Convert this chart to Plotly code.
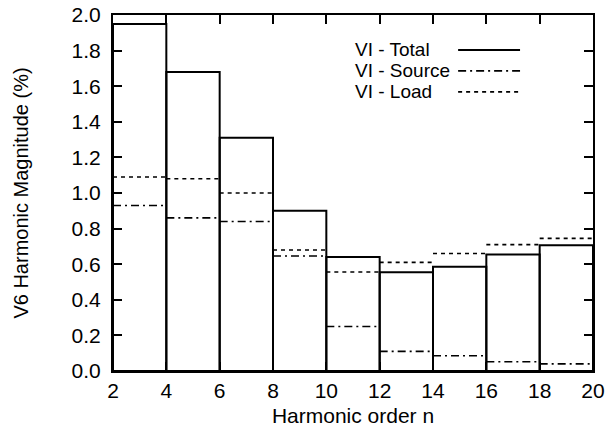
import plotly.graph_objects as go

# Data
bin_edges = [2, 4, 6, 8, 10, 12, 14, 16, 18, 20]
total = [1.95, 1.68, 1.31, 0.90, 0.64, 0.555, 0.586, 0.655, 0.706]
source = [0.93, 0.86, 0.84, 0.646, 0.25, 0.11, 0.086, 0.052, 0.04]
load = [1.09, 1.08, 1.00, 0.68, 0.556, 0.61, 0.66, 0.71, 0.745]
x_ticks = [2, 4, 6, 8, 10, 12, 14, 16, 18, 20]
series_names = ["VI - Total", "VI - Source", "VI - Load"]

centers = [(a + b) / 2 for a, b in zip(bin_edges[:-1], bin_edges[1:])]
widths = [b - a for a, b in zip(bin_edges[:-1], bin_edges[1:])]


def segments(values):
    xs, ys = [], []
    for a, b, v in zip(bin_edges[:-1], bin_edges[1:], values):
        xs += [a, b, None]
        ys += [v, v, None]
    return xs, ys


SRC_DASH = "8px,4px,2px,4px"
LOAD_DASH = "4px,4px"

fig = go.Figure()
fig.add_trace(go.Bar(
    x=centers, y=total, width=widths, name=series_names[0],
    marker=dict(color="rgba(0,0,0,0)", line=dict(color="black", width=2)),
    showlegend=False,
))
sx, sy = segments(source)
fig.add_trace(go.Scatter(x=sx, y=sy, mode="lines", name=series_names[1],
                         line=dict(color="black", width=1.6, dash=SRC_DASH),
                         showlegend=False))
lx, ly = segments(load)
fig.add_trace(go.Scatter(x=lx, y=ly, mode="lines", name=series_names[2],
                         line=dict(color="black", width=1.6, dash=LOAD_DASH),
                         showlegend=False))

# Manual legend (text left, sample right)
leg_y = [0.902, 0.843, 0.784]
dashes = ["solid", SRC_DASH, LOAD_DASH]
widths_leg = [2, 1.6, 1.6]
for name, yy, d, w in zip(series_names, leg_y, dashes, widths_leg):
    fig.add_annotation(x=0.5, y=yy, xref="paper", yref="paper", text=name,
                       showarrow=False, xanchor="left", yanchor="middle",
                       font=dict(size=19, color="black"))
    fig.add_shape(type="line", xref="paper", yref="paper",
                  x0=0.719, x1=0.848, y0=yy, y1=yy,
                  line=dict(color="black", width=w, dash=d))

axis_common = dict(showline=True, linecolor="black", linewidth=2, mirror="allticks",
                   ticks="inside", ticklen=9, tickwidth=1.5, tickcolor="black",
                   showgrid=False, zeroline=False, automargin=False,
                   tickfont=dict(size=21, color="black"))

fig.update_layout(
    width=609, height=428,
    margin=dict(l=113, r=16, t=15, b=57),
    plot_bgcolor="white", paper_bgcolor="white",
    font=dict(family="Liberation Sans, Arial, sans-serif", color="black"),
    barmode="overlay",
    xaxis=dict(range=[2, 20], tickvals=x_ticks,
               title=dict(text="Harmonic order n", font=dict(size=21), standoff=7),
               **axis_common),
    yaxis=dict(range=[0, 2], dtick=0.2, tick0=0, tickformat=".1f",
               ticklabelstandoff=6,
               title=dict(text="V6 Harmonic Magnitude (%)", font=dict(size=20), standoff=38),
               **axis_common),
)

fig.write_html("out.html")
